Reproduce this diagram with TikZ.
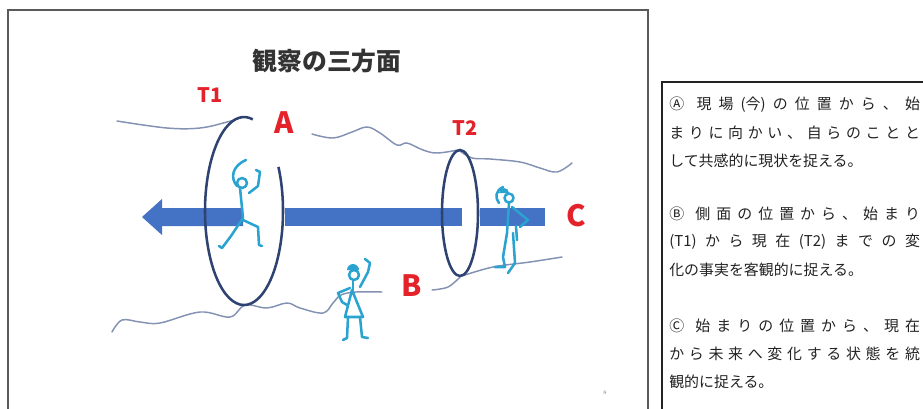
\documentclass[tikz,border=0pt]{standalone}
\usepackage{fontspec}
\newfontfamily\jpfont{Noto Sans CJK JP}

\definecolor{labelred}{HTML}{E4222A}
\definecolor{waveblue}{HTML}{8391B3}
\definecolor{ringnavy}{HTML}{2E4372}
\definecolor{barblue}{HTML}{4472C4}
\definecolor{figcyan}{HTML}{2AA3D0}
\definecolor{titlegray}{HTML}{333333}
\definecolor{framegray}{HTML}{5A5A5A}
\definecolor{notegray}{HTML}{222222}

% justified note lines: glue between every character
\newlength\notewd
\setlength\notewd{188pt}
\makeatletter
\def\sp@end{\sp@end@marker}
\newcommand\spreadline[1]{\makebox[\notewd][s]{\sp@step#1\sp@end}}
\def\sp@step#1{\ifx\sp@end#1\unskip\else#1\hfil\expandafter\sp@step\fi}
\makeatother

\begin{document}
\begin{tikzpicture}[x=0.75pt,y=-0.75pt,
  wave/.style={draw=waveblue, line width=1.1pt, line cap=round},
  ring/.style={draw=ringnavy, line width=1.9pt},
  stick/.style={draw=figcyan, line width=1.9pt, line cap=round, line join=round},
  tlabel/.style={text=labelred, font=\jpfont\bfseries\fontsize{15}{15}\selectfont, inner sep=0},
  letter/.style={text=labelred, font=\jpfont\bfseries\fontsize{22}{22}\selectfont, inner sep=0},
  note/.style={anchor=west, inner sep=0, font=\jpfont\fontsize{11.2}{13}\selectfont, text=notegray}]

\useasboundingbox (0,0) rectangle (923,408);
\clip (0,0) rectangle (923,408);

% frames
\draw[draw=framegray, line width=1.5pt] (8,10) rectangle (648,430);
\draw[draw=notegray, line width=1pt] (662,82) rectangle (950,430);

% title
\node[font=\jpfont\bfseries\fontsize{18.6}{20}\selectfont, text=titlegray] (title) at (327,61) {観察の三方面};

% ring centres
\coordinate (ringA) at (244,211);
\coordinate (ringB) at (460,213);

% wavy boundary lines
\draw[wave] plot[smooth, tension=0.6] coordinates {(117,121) (167,128) (200,128) (227,122) (243,117)};
\draw[wave] plot[smooth, tension=0.6] coordinates {(312,134) (333,138) (352,132) (367,127) (380,133) (397,145) (407,143) (423,150) (437,153) (458,150)};
\draw[wave] plot[smooth, tension=0.6] coordinates {(460,151) (472,158) (490,159) (520,162) (540,168) (557,172) (572,163)};
\draw[wave] plot[smooth, tension=0.6] coordinates {(112,332) (122,320) (140,322) (160,323) (200,312) (230,317) (245,305) (267,308) (287,303) (300,308) (323,313) (333,303) (341,295) (356,292) (382,292)};
\draw[wave] plot[smooth, tension=0.6] coordinates {(432,290) (448,287) (460,277)};
\draw[wave] plot[smooth, tension=0.6] coordinates {(462,276) (493,267) (530,262) (562,257)};

% the time arrow, broken where it passes the rings
\fill[barblue] (142,217) -- (162,199) -- (162,208) -- (243,208) -- (243,226) -- (162,226) -- (162,235) -- cycle;
\fill[barblue] (285,208) rectangle (462,226);
\fill[barblue] (480,208) rectangle (545,226);

% rings T1 and T2
\draw[ring] ([shift={(-28:39 and 94)}]ringA) arc[start angle=-28, end angle=283, x radius=39, y radius=94];
\draw[ring] (ringB) ellipse[x radius=18, y radius=63];

% observer inside ring A
\draw[stick] (242,183) circle[radius=5];
\draw[stick] (246,160) .. controls (232,166) and (230,178) .. (237,186);
\draw[stick] (249,193) -- (258,186) -- (260,172) -- (256,170);
\draw[stick] (240,188) -- (243,218);
\draw[stick] (243,218) -- (231,236) -- (222,248) -- (219,246);
\draw[stick] (243,220) -- (258,227) -- (259,245) -- (262,246);

% observer beside the path
\fill[figcyan] (347,270) arc[start angle=180, end angle=360, radius=6] -- cycle;
\draw[stick] (354,275) circle[radius=5];
\draw[stick] (353,281) -- (353,290);
\draw[stick] (360,287) -- (368,272) -- (370,263) -- (365,259);
\draw[stick] (352,290) -- (345,317) -- (363,317) -- cycle;
\draw[stick] (350,288) -- (338,293) -- (342,302) -- (347,305);
\draw[stick] (348,317) -- (347,338) -- (343,340);
\draw[stick] (360,317) -- (362,337) -- (368,338);

% observer at the start
\fill[figcyan] (499,193) arc[start angle=180, end angle=360, radius=5] -- cycle;
\draw[stick] (509,198) circle[radius=4.5];
\draw[stick] (503,187) .. controls (495,191) and (495,198) .. (499,203);
\draw[stick] (509,203) -- (507,233);
\draw[stick] (512,207) -- (528,220) -- (520,227);
\draw[stick] (516,226) -- (517,240);
\draw[stick] (507,233) -- (503,257) -- (505,267) -- (495,267);
\draw[stick] (513,233) -- (515,263) -- (508,273);

% labels
\node[tlabel] (t1) at (210,95) {T1};
\node[tlabel] (t2) at (465,128) {T2};
\node[letter] (la) at (284,123) {A};
\node[letter] (lb) at (412,286) {B};
\node[letter] (lc) at (576,216) {C};
\node[font=\fontsize{4}{4}\selectfont, text=gray] (pg) at (605,393) {8};

% explanatory notes
\node[note] (n1) at (669,105) {\spreadline{{Ⓐ\hspace{.35em}}現場{(今)}の位置から、始}};
\node[note] (n2) at (669,133) {\spreadline{まりに向かい、自らのことと}};
\node[note] (n3) at (669,161) {して共感的に現状を捉える。};
\node[note] (n4) at (669,214) {\spreadline{{Ⓑ\hspace{.35em}}側面の位置から、始まり}};
\node[note] (n5) at (669,242) {\spreadline{{(T1)}から現在{(T2)}までの変}};
\node[note] (n6) at (669,270) {化の事実を客観的に捉える。};
\node[note] (n7) at (669,326) {\spreadline{{Ⓒ\hspace{.35em}}始まりの位置から、現在}};
\node[note] (n8) at (669,354) {\spreadline{から未来へ変化する状態を統}};
\node[note] (n9) at (669,382) {観的に捉える。};
\end{tikzpicture}
\end{document}
